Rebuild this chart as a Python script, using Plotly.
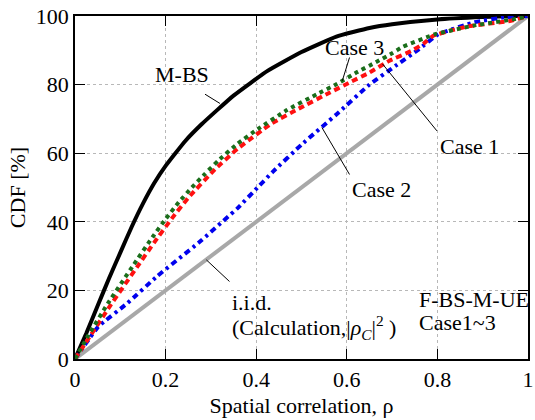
import plotly.graph_objects as go

# ---- data ----
mbs_x = [0, 0.025, 0.05, 0.075, 0.1, 0.125, 0.15, 0.175, 0.2, 0.243, 0.28, 0.35, 0.425, 0.5, 0.577, 0.65, 0.7, 0.8, 0.9, 0.97, 1.0]
mbs_y = [0, 7.5, 15.5, 23.5, 31, 38.5, 45.3, 51.3, 56.3, 63.5, 68.5, 76.8, 84, 89.5, 94, 96.5, 97.6, 99, 99.7, 100, 100]

case3_x = [0, 0.03, 0.073, 0.127, 0.171, 0.2, 0.229, 0.258, 0.287, 0.316, 0.359, 0.403, 0.468, 0.534, 0.577, 0.621, 0.664, 0.701, 0.723, 0.795, 0.88, 0.97, 1.0]
case3_y = [0, 7, 16.3, 27, 35.5, 40.8, 45.7, 50, 54, 57.8, 62.8, 67, 72.6, 77.2, 80.1, 83.5, 86.5, 89.2, 91, 94.7, 97.2, 99.1, 100]

case1_x = [0, 0.035, 0.08, 0.138, 0.175, 0.214, 0.25, 0.309, 0.359, 0.432, 0.494, 0.563, 0.606, 0.65, 0.693, 0.744, 0.77, 0.79, 0.83, 0.868, 0.962, 1.0]
case1_y = [0, 7, 16, 27, 34, 41, 47, 55.3, 61.3, 68.5, 73, 77.7, 80.6, 83.5, 86.9, 89.9, 92, 94.2, 95.8, 97, 98.6, 100]

case2_x = [0, 0.051, 0.116, 0.181, 0.272, 0.359, 0.403, 0.436, 0.5, 0.577, 0.65, 0.708, 0.759, 0.802, 0.882, 0.947, 1.0]
case2_y = [0, 9.4, 16.3, 24.1, 33.8, 44, 50, 54.5, 62.5, 71.3, 80, 85.5, 90.3, 94.7, 98.2, 99.6, 100]

iid_x = [0, 1]
iid_y = [0, 100]

x_ticks = [0, 0.2, 0.4, 0.6, 0.8, 1]
x_ticklabels = ["0", "0.2", "0.4", "0.6", "0.8", "1"]
y_ticks = [0, 20, 40, 60, 80, 100]
y_ticklabels = ["0", "20", "40", "60", "80", "100"]

FONT = "Liberation Serif"
FS = 22

fig = go.Figure()
fig.add_trace(go.Scatter(x=iid_x, y=iid_y, mode="lines",
                         line=dict(color="#a8a8a8", width=4), showlegend=False))
fig.add_trace(go.Scatter(x=mbs_x, y=mbs_y, mode="lines",
                         line=dict(color="black", width=4, shape="spline", smoothing=0.4), showlegend=False))
fig.add_trace(go.Scatter(x=case2_x, y=case2_y, mode="lines",
                         line=dict(color="#0000ee", width=4, dash="6px,4px,3px,4px", shape="spline", smoothing=0.3),
                         showlegend=False))
fig.add_trace(go.Scatter(x=case1_x, y=case1_y, mode="lines",
                         line=dict(color="#ff1010", width=4, dash="6px,4px", shape="spline", smoothing=0.3),
                         showlegend=False))
fig.add_trace(go.Scatter(x=case3_x, y=case3_y, mode="lines",
                         line=dict(color="#1a6e1a", width=4, dash="4px,4px", shape="spline", smoothing=0.3),
                         showlegend=False))

# leader lines
leaders = [
    (0.287, 77.2, 0.320, 74.5),   # M-BS
    (0.606, 87.9, 0.590, 81.1),   # Case 3
    (0.799, 66.5, 0.679, 86.0),   # Case 1
    (0.606, 53.8, 0.545, 67.5),   # Case 2
    (0.341, 22.6, 0.290, 28.9),   # i.i.d.
]
for x0, y0, x1, y1 in leaders:
    fig.add_shape(type="line", x0=x0, y0=y0, x1=x1, y1=y1, xref="x", yref="y",
                  line=dict(color="black", width=1))

labels = [
    ("M-BS", 0.237, 83.0, "center"),
    ("Case 3", 0.616, 90.9, "center"),
    ("Case 1", 0.87, 62.0, "center"),
    ("Case 2", 0.676, 49.4, "center"),
    ("i.i.d.", 0.342, 16.6, "left"),
    ("(Calculation,|<i>ρ</i><sub><i>C</i></sub>|<sup>2</sup> )", 0.342, 9.1, "left"),
    ("F-BS-M-UE", 0.756, 17.3, "left"),
    ("Case1~3", 0.756, 10.5, "left"),
]
for txt, x, y, anc in labels:
    fig.add_annotation(text=txt, x=x, y=y, xref="x", yref="y", showarrow=False,
                       xanchor=anc, yanchor="middle",
                       font=dict(family=FONT, size=FS, color="black"))

axis_common = dict(
    showline=True, linecolor="black", linewidth=1.5, mirror="ticks",
    ticks="inside", ticklen=10, tickwidth=1, tickcolor="black",
    showgrid=True, gridcolor="#b8b8b8", gridwidth=1, griddash="dot",
    zeroline=False, ticklabeloverflow="allow",
    tickfont=dict(family=FONT, size=FS, color="black"),
)

fig.update_xaxes(range=[0, 1], tickvals=x_ticks, ticktext=x_ticklabels,
                 title=dict(text="Spatial correlation, ρ", font=dict(family=FONT, size=FS, color="black"), standoff=6),
                 **axis_common)
fig.update_yaxes(range=[0, 100], tickvals=y_ticks, ticktext=y_ticklabels,
                 title=dict(text="CDF [%]", font=dict(family=FONT, size=FS, color="black"), standoff=4),
                 **axis_common)

fig.update_layout(
    width=535, height=420,
    margin=dict(l=75, r=1, t=16, b=61, pad=0),
    paper_bgcolor="white", plot_bgcolor="white",
    showlegend=False,
)

fig.write_html("out.html")
